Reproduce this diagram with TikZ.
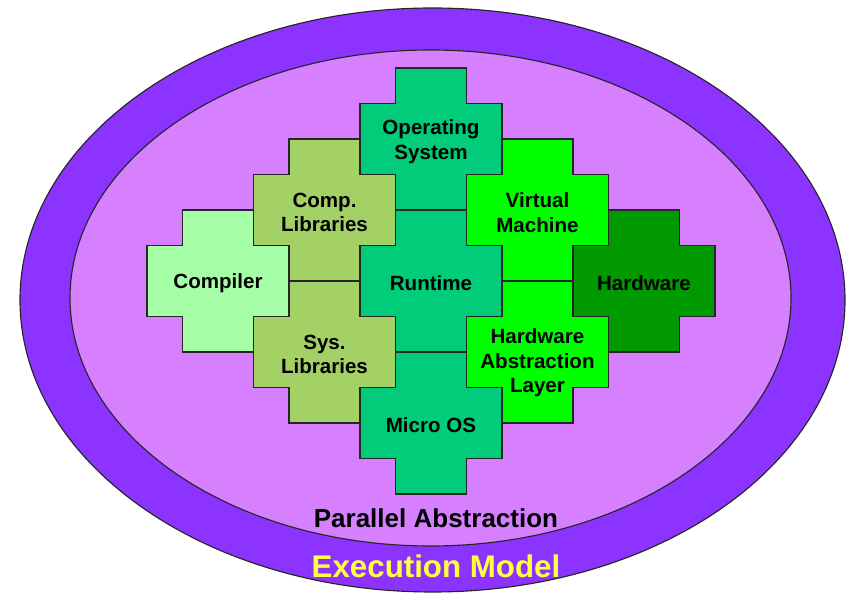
\documentclass[tikz,border=0pt]{standalone}
\usepackage{fontspec}
\setmainfont{Liberation Sans}
\definecolor{execviolet}{HTML}{8C33FF}
\definecolor{abstrviolet}{HTML}{D680FF}
\definecolor{compgreen}{HTML}{A6FFA6}
\definecolor{libgreen}{HTML}{A3D166}
\definecolor{osgreen}{HTML}{00CC7A}
\definecolor{vmgreen}{HTML}{00FF00}
\definecolor{hwgreen}{HTML}{009900}
\definecolor{modelyellow}{HTML}{FFFF40}
\tikzset{
  block line/.style={draw=black!85, line width=0.65pt},
  label text/.style={align=center, font=\fontsize{11.7}{14}\selectfont\bfseries},
}
% one plus-shaped block: [text shift], name, x, y, colour, text
\newcommand{\plusblock}[6][-0.05]{%
  \begin{scope}[shift={(#3,#4)}]
    \draw [block line, fill=#5] (-2,-1) -- (-1,-1) -- (-1,-2) -- (1,-2) -- (1,-1) -- (2,-1)
      -- (2,1) -- (1,1) -- (1,2) -- (-1,2) -- (-1,1) -- (-2,1) -- cycle;
    \node [label text] (#2) at (0cm,#1cm) {#6};
  \end{scope}}
\begin{document}
\begin{tikzpicture}[x=0.71cm,y=0.71cm]
\useasboundingbox (-8.62cm,-6.28cm) rectangle (8.44cm,5.62cm);
% the two ellipses
\draw [block line, fill=execviolet] (0.03cm,-0.38cm) ellipse [x radius=8.25cm, y radius=5.84cm];
\draw [block line, fill=abstrviolet] (-0.01cm,-0.34cm) ellipse [x radius=7.21cm, y radius=4.96cm];
% the blocks
\plusblock{compiler}{-6}{0}{compgreen}{Compiler}
\plusblock{complib}{-3}{2}{libgreen}{Comp.\\Libraries}
\plusblock{syslib}{-3}{-2}{libgreen}{Sys.\\Libraries}
\plusblock{os}{0}{4}{osgreen}{Operating\\System}
\plusblock{runtime}{0}{0}{osgreen}{Runtime}
\plusblock{microos}{0}{-4}{osgreen}{Micro OS}
\plusblock{vm}{3}{2}{vmgreen}{Virtual\\Machine}
\plusblock[-0.22]{hal}{3}{-2}{vmgreen}{Hardware\\Abstraction\\Layer}
\plusblock{hardware}{6}{0}{hwgreen}{Hardware}
% the captions
\node [font=\fontsize{14.8}{17}\selectfont\bfseries] (parallel) at (0.1cm,-4.74cm) {Parallel Abstraction};
\node [font=\fontsize{17.8}{20}\selectfont\bfseries, text=modelyellow] (model) at (0.1cm,-5.7cm) {Execution Model};
\end{tikzpicture}
\end{document}
